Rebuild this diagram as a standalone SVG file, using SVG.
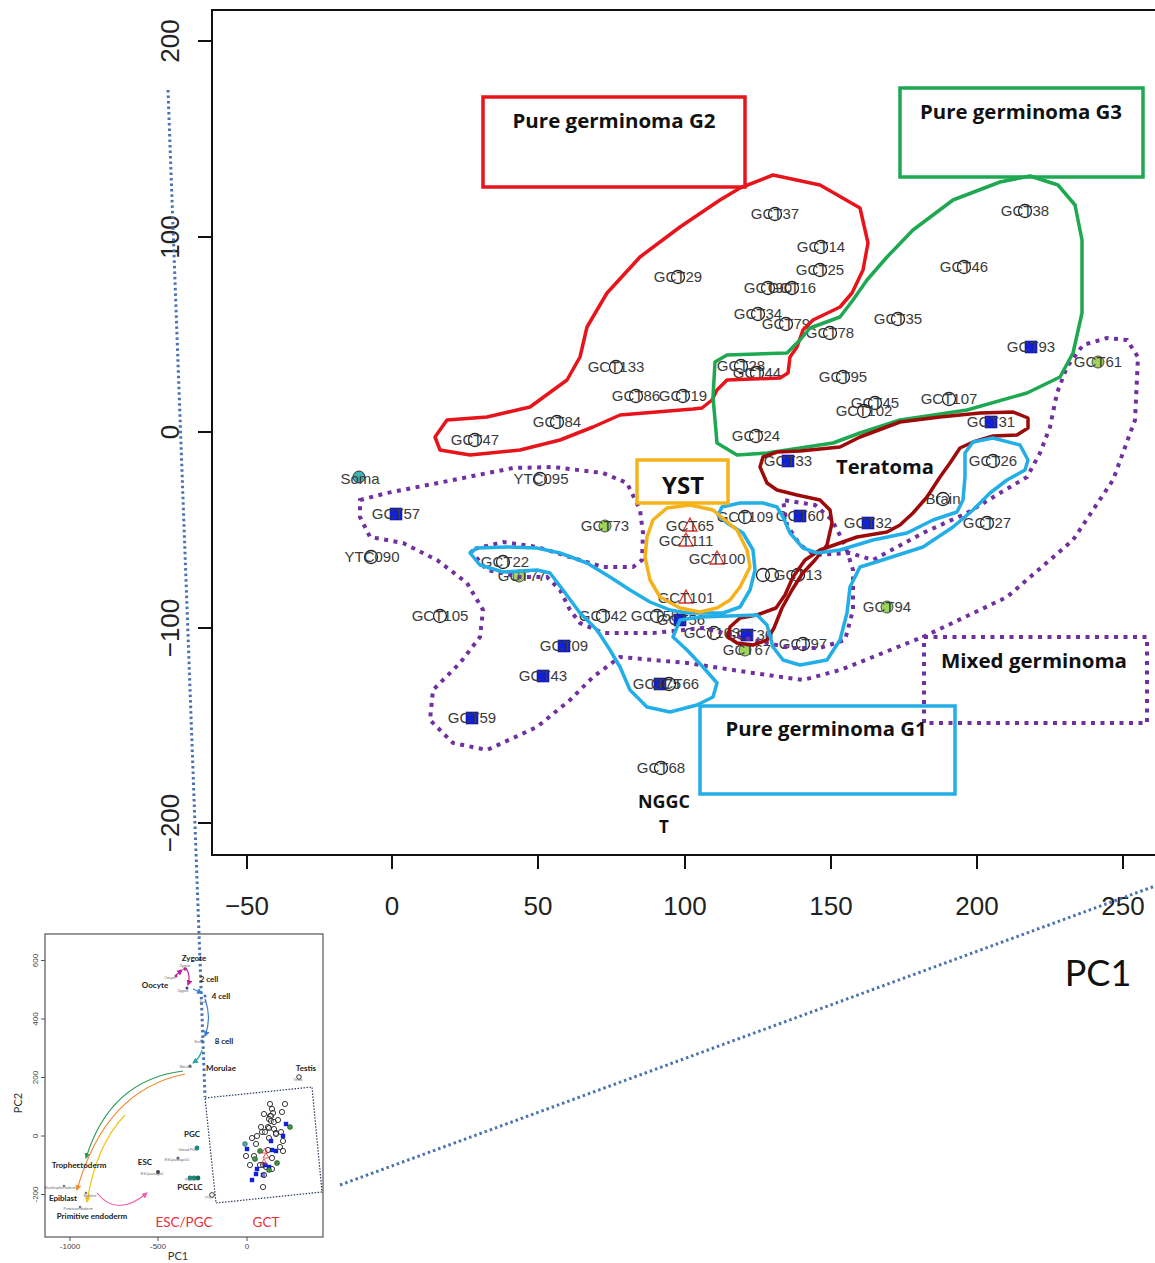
<svg xmlns="http://www.w3.org/2000/svg" xmlns:xlink="http://www.w3.org/1999/xlink" width="1155" height="1263" viewBox="0 0 1155 1263">
<style>
.lbl{font-family:"Liberation Sans",Arial,sans-serif;font-size:15px;fill:#3a3a3a;text-anchor:middle}
.tick{font-family:"Liberation Sans",Arial,sans-serif;font-size:26px;fill:#222;text-anchor:middle}
.ann{font-family:"Open Sans","Noto Sans",sans-serif;font-weight:700;fill:#111;text-anchor:middle}
.oc{fill:none;stroke:#222;stroke-width:1.3}
.bs{fill:#1020dc;stroke:#1a1a80;stroke-width:0.6}
.gc{fill:#9ed35c;stroke:#4a4a4a;stroke-width:1}
.rt{fill:none;stroke:#e0302a;stroke-width:1.3}
.tl{fill:#3fb3b3;stroke:#333;stroke-width:1}
.hull{fill:none;stroke-width:3.5;stroke-linejoin:round;stroke-linecap:round}
.dot{fill:none;stroke:#7030a0;stroke-width:4;stroke-dasharray:4 5.5}
.conn{fill:none;stroke:#4a72b0;stroke-width:3;stroke-dasharray:2.5 3}
.ilab{font-family:Lato,"Open Sans",sans-serif;font-weight:700;font-size:8px;fill:#222;text-anchor:middle}
.itiny{font-family:"Liberation Sans",sans-serif;font-size:3.5px;fill:#666;text-anchor:middle}
.itick{font-family:"Liberation Sans",sans-serif;font-size:8px;fill:#444;text-anchor:middle}
.ioc{fill:#fff;fill-opacity:0.4;stroke:#222;stroke-width:0.9}
.ibs{fill:#1020dc}
.igc{fill:#3a9a3a;stroke:#222;stroke-width:0.5}
.iarr{fill:none;stroke-width:1.2}
</style>
<defs>
<circle id="mc" r="6.5" class="oc"/>
<rect id="mb" x="-6" y="-6" width="12" height="12" class="bs"/>
<circle id="mg" r="6" class="gc"/>
<path id="mt" d="M0,-8 L7,5 L-7,5 Z" class="rt"/>
<circle id="ic" r="2.6" class="ioc"/>
<rect id="ib" x="-2.2" y="-2.2" width="4.4" height="4.4" class="ibs"/>
<circle id="ig" r="2.5" class="igc"/>
<marker id="aG" viewBox="0 0 6 6" refX="5" refY="3" markerWidth="5" markerHeight="5" orient="auto"><path d="M0,0 L6,3 L0,6 Z" fill="#2a9a5a"/></marker>
<marker id="aO" viewBox="0 0 6 6" refX="5" refY="3" markerWidth="5" markerHeight="5" orient="auto"><path d="M0,0 L6,3 L0,6 Z" fill="#f08a30"/></marker>
<marker id="aY" viewBox="0 0 6 6" refX="5" refY="3" markerWidth="5" markerHeight="5" orient="auto"><path d="M0,0 L6,3 L0,6 Z" fill="#f2c418"/></marker>
<marker id="aP" viewBox="0 0 6 6" refX="5" refY="3" markerWidth="5" markerHeight="5" orient="auto"><path d="M0,0 L6,3 L0,6 Z" fill="#f060b0"/></marker>
<marker id="aB" viewBox="0 0 6 6" refX="5" refY="3" markerWidth="5" markerHeight="5" orient="auto"><path d="M0,0 L6,3 L0,6 Z" fill="#3a7ad8"/></marker>
<marker id="aT" viewBox="0 0 6 6" refX="5" refY="3" markerWidth="5" markerHeight="5" orient="auto"><path d="M0,0 L6,3 L0,6 Z" fill="#20a8a0"/></marker>
<marker id="aM" viewBox="0 0 6 6" refX="5" refY="3" markerWidth="5" markerHeight="5" orient="auto"><path d="M0,0 L6,3 L0,6 Z" fill="#c0209a"/></marker>
</defs>
<rect width="1155" height="1263" fill="#fff"/>

<!-- axes -->
<g id="axes">
<rect x="212" y="10" width="960" height="845" fill="none" stroke="#111" stroke-width="2"/>
<g stroke="#111" stroke-width="2">
<line x1="198" y1="41" x2="212" y2="41"/><line x1="198" y1="237" x2="212" y2="237"/><line x1="198" y1="432" x2="212" y2="432"/><line x1="198" y1="628" x2="212" y2="628"/><line x1="198" y1="823" x2="212" y2="823"/>
<line x1="247" y1="855" x2="247" y2="869"/><line x1="392" y1="855" x2="392" y2="869"/><line x1="538" y1="855" x2="538" y2="869"/><line x1="685" y1="855" x2="685" y2="869"/><line x1="831" y1="855" x2="831" y2="869"/><line x1="977" y1="855" x2="977" y2="869"/><line x1="1123" y1="855" x2="1123" y2="869"/>
</g>
<text class="tick" transform="translate(179,41) rotate(-90)">200</text>
<text class="tick" transform="translate(179,237) rotate(-90)">100</text>
<text class="tick" transform="translate(179,432) rotate(-90)">0</text>
<text class="tick" transform="translate(179,628) rotate(-90)">−100</text>
<text class="tick" transform="translate(179,823) rotate(-90)">−200</text>
<text class="tick" x="247" y="915">−50</text>
<text class="tick" x="392" y="915">0</text>
<text class="tick" x="538" y="915">50</text>
<text class="tick" x="685" y="915">100</text>
<text class="tick" x="831" y="915">150</text>
<text class="tick" x="977" y="915">200</text>
<text class="tick" x="1123" y="915">250</text>
<text x="1098" y="986" font-family="Lato,'Open Sans',sans-serif" font-size="36" fill="#111" text-anchor="middle">PC1</text>
</g>

<!-- data points -->
<g id="points">
<g id="p-gct37"><use href="#mc" x="775" y="214"/><text class="lbl" x="775" y="219">GCT37</text></g>
<g id="p-gct14"><use href="#mc" x="821" y="247"/><text class="lbl" x="821" y="252">GCT14</text></g>
<g id="p-gct25"><use href="#mc" x="820" y="270"/><text class="lbl" x="820" y="275">GCT25</text></g>
<g id="p-gct29"><use href="#mc" x="678" y="277"/><text class="lbl" x="678" y="282">GCT29</text></g>
<g id="p-gct90"><use href="#mc" x="768" y="288"/><text class="lbl" x="768" y="293">GCT90</text></g>
<g id="p-gct16"><use href="#mc" x="792" y="288"/><text class="lbl" x="792" y="293">GCT16</text></g>
<g id="p-gct34"><use href="#mc" x="758" y="314"/><text class="lbl" x="758" y="319">GCT34</text></g>
<g id="p-gct79"><use href="#mc" x="786" y="324"/><text class="lbl" x="786" y="329">GCT79</text></g>
<g id="p-gct78"><use href="#mc" x="830" y="333"/><text class="lbl" x="830" y="338">GCT78</text></g>
<g id="p-gct133"><use href="#mc" x="616" y="367"/><text class="lbl" x="616" y="372">GCT133</text></g>
<g id="p-gct28"><use href="#mc" x="741" y="366"/><text class="lbl" x="741" y="371">GCT28</text></g>
<g id="p-gct44"><use href="#mc" x="757" y="373"/><text class="lbl" x="757" y="378">GCT44</text></g>
<g id="p-gct86"><use href="#mc" x="636" y="396"/><text class="lbl" x="636" y="401">GCT86</text></g>
<g id="p-gct19"><use href="#mc" x="683" y="396"/><text class="lbl" x="683" y="401">GCT19</text></g>
<g id="p-gct84"><use href="#mc" x="557" y="422"/><text class="lbl" x="557" y="427">GCT84</text></g>
<g id="p-gct47"><use href="#mc" x="475" y="440"/><text class="lbl" x="475" y="445">GCT47</text></g>
<g id="p-gct95"><use href="#mc" x="843" y="377"/><text class="lbl" x="843" y="382">GCT95</text></g>
<g id="p-gct45"><use href="#mc" x="875" y="403"/><text class="lbl" x="875" y="408">GCT45</text></g>
<g id="p-gct102"><use href="#mc" x="864" y="411"/><text class="lbl" x="864" y="416">GCT102</text></g>
<g id="p-gct24"><use href="#mc" x="756" y="436"/><text class="lbl" x="756" y="441">GCT24</text></g>
<g id="p-gct35"><use href="#mc" x="898" y="319"/><text class="lbl" x="898" y="324">GCT35</text></g>
<g id="p-gct38"><use href="#mc" x="1025" y="211"/><text class="lbl" x="1025" y="216">GCT38</text></g>
<g id="p-gct46"><use href="#mc" x="964" y="267"/><text class="lbl" x="964" y="272">GCT46</text></g>
<g id="p-gct93"><use href="#mb" x="1031" y="347"/><text class="lbl" x="1031" y="352">GCT93</text></g>
<g id="p-gct61"><use href="#mg" x="1098" y="362"/><text class="lbl" x="1098" y="367">GCT61</text></g>
<g id="p-gct107"><use href="#mc" x="949" y="399"/><text class="lbl" x="949" y="404">GCT107</text></g>
<g id="p-gct31"><use href="#mb" x="991" y="422"/><text class="lbl" x="991" y="427">GCT31</text></g>
<g id="p-gct33"><use href="#mb" x="788" y="461"/><text class="lbl" x="788" y="466">GCT33</text></g>
<g id="p-gct26"><use href="#mc" x="993" y="461"/><text class="lbl" x="993" y="466">GCT26</text></g>
<g id="p-brain"><use href="#mc" x="943" y="499"/><text class="lbl" x="943" y="504">Brain</text></g>
<g id="p-gct27"><use href="#mc" x="987" y="523"/><text class="lbl" x="987" y="528">GCT27</text></g>
<g id="p-gct32"><use href="#mb" x="868" y="523"/><text class="lbl" x="868" y="528">GCT32</text></g>
<g id="p-gct60"><use href="#mb" x="800" y="516"/><text class="lbl" x="800" y="521">GCT60</text></g>
<g id="p-gct109"><use href="#mc" x="745" y="517"/><text class="lbl" x="745" y="522">GCT109</text></g>
<g id="p-gct65"><use href="#mt" x="690" y="526"/><text class="lbl" x="690" y="531">GCT65</text></g>
<g id="p-gct111"><use href="#mt" x="686" y="541"/><text class="lbl" x="686" y="546">GCT111</text></g>
<g id="p-gct100"><use href="#mt" x="717" y="559"/><text class="lbl" x="717" y="564">GCT100</text></g>
<g id="p-gct101"><use href="#mt" x="686" y="598"/><text class="lbl" x="686" y="603">GCT101</text></g>
<g id="p-gct13"><use href="#mc" x="763" y="575"/><use href="#mc" x="772" y="575"/><use href="#mc" x="798" y="575"/><text class="lbl" x="798" y="580">GCT13</text></g>
<g id="p-gct94"><use href="#mg" x="887" y="607"/><text class="lbl" x="887" y="612">GCT94</text></g>
<g id="p-gct97"><use href="#mc" x="803" y="644"/><text class="lbl" x="803" y="649">GCT97</text></g>
<g id="p-gct103"><use href="#mc" x="714" y="633"/><text class="lbl" x="712" y="638">GCT103</text></g>
<g id="p-gct36"><use href="#mb" x="747" y="635"/><text class="lbl" x="749" y="640">GCT36</text></g>
<g id="p-gct67"><use href="#mg" x="745" y="650"/><text class="lbl" x="747" y="655">GCT67</text></g>
<g id="p-gct42"><use href="#mc" x="603" y="616"/><text class="lbl" x="603" y="621">GCT42</text></g>
<g id="p-gct58"><use href="#mc" x="657" y="616"/><text class="lbl" x="655" y="621">GCT58</text></g>
<g id="p-gct56"><use href="#mb" x="680" y="620"/><text class="lbl" x="681" y="625">GCT56</text></g>
<g id="p-gct75"><use href="#mb" x="660" y="684"/><text class="lbl" x="657" y="689">GCT75</text></g>
<g id="p-gct66"><use href="#mc" x="669" y="684"/><text class="lbl" x="675" y="689">GCT66</text></g>
<g id="p-gct22"><use href="#mc" x="503" y="562"/><text class="lbl" x="505" y="567">GCT22</text></g>
<g id="p-gct77"><use href="#mg" x="519" y="576"/><text class="lbl" x="522" y="581">GCT77</text></g>
<g id="p-gct73"><use href="#mg" x="605" y="526"/><text class="lbl" x="605" y="531">GCT73</text></g>
<g id="p-ytc095"><use href="#mc" x="540" y="479"/><text class="lbl" x="541" y="484">YTC095</text></g>
<g id="p-ytc090"><use href="#mc" x="371" y="557"/><text class="lbl" x="372" y="562">YTC090</text></g>
<g id="p-gct57"><use href="#mb" x="396" y="514"/><text class="lbl" x="396" y="519">GCT57</text></g>
<g id="p-soma"><circle cx="359" cy="477" r="6" class="tl"/><text class="lbl" x="360" y="484">Soma</text></g>
<g id="p-gct105"><use href="#mc" x="440" y="616"/><text class="lbl" x="440" y="621">GCT105</text></g>
<g id="p-gct09"><use href="#mb" x="564" y="646"/><text class="lbl" x="564" y="651">GCT09</text></g>
<g id="p-gct43"><use href="#mb" x="543" y="676"/><text class="lbl" x="543" y="681">GCT43</text></g>
<g id="p-gct59"><use href="#mb" x="472" y="718"/><text class="lbl" x="472" y="723">GCT59</text></g>
<g id="p-gct68"><use href="#mc" x="661" y="768"/><text class="lbl" x="661" y="773">GCT68</text></g>
</g>

<!-- group outlines (connectors/hulls) -->
<g id="connectors">
<path id="hull-mixed" class="dot" d="M360,500 L387,493 L453,480 L513,468 L553,467 L603,473 L627,483 L640,510 L643,533 L642,560 L633,567 L603,567 L570,557 L537,547 L503,542 L470,550 L487,570 L520,577 L547,577 L560,590 L570,610 L580,623 L603,633 L653,633 L703,628 L753,640 L790,648 L820,648 L845,640 L853,610 L853,570 L845,545 L832,520 L815,505 L783,500 L787,525 L800,545 L815,555 L850,553 L873,560 L923,533 L967,513 L1000,493 L1027,477 L1040,453 L1050,427 L1057,393 L1067,367 L1083,345 L1107,338 L1127,340 L1138,357 L1135,420 L1113,480 L1073,540 L1007,597 L923,637 L840,670 L803,680 L753,673 L687,663 L620,657 L593,677 L570,700 L537,727 L487,750 L453,743 L430,720 L433,690 L460,663 L480,637 L483,610 L467,583 L437,560 L403,543 L370,537 L360,517 Z"/>
<path id="hull-g2" class="hull" stroke="#e8141b" d="M740,188 L773,175 L820,185 L860,208 L868,243 L863,270 L852,293 L840,307 L813,320 L803,330 L797,347 L790,357 L788,373 L780,378 L727,380 L717,390 L712,400 L702,408 L693,409 L620,415 L593,427 L560,440 L520,450 L470,455 L440,450 L435,437 L447,420 L487,417 L530,407 L567,380 L580,357 L587,327 L607,293 L640,257 L680,227 L720,200 Z"/>
<path id="hull-g3" class="hull" stroke="#1da851" d="M715,362 L727,355 L787,353 L800,340 L810,328 L840,317 L853,300 L867,280 L887,257 L913,230 L953,200 L1000,182 L1030,176 L1058,185 L1075,205 L1082,240 L1082,313 L1073,353 L1060,377 L1027,393 L967,410 L900,420 L860,433 L833,443 L767,453 L737,455 L717,443 L713,397 Z"/>
<path id="hull-ter" class="hull" stroke="#9c0a0a" d="M777,452 L800,451 L840,447 L860,437 L900,422 L940,417 L980,413 L1013,412 L1028,418 L1028,428 L1017,435 L993,436 L973,442 L960,448 L950,463 L940,477 L927,497 L913,513 L900,525 L887,532 L857,537 L840,543 L820,550 L805,560 L793,577 L785,595 L776,608 L757,615 L740,618 L730,627 L728,637 L737,643 L753,645 L767,640 L774,628 L782,608 L792,590 L802,574 L815,560 L827,545 L832,523 L830,510 L820,500 L797,495 L777,490 L767,483 L760,467 L763,457 Z"/>
<path id="hull-g1" class="hull" stroke="#22aee6" d="M470,553 L477,548 L507,547 L537,548 L560,553 L587,563 L610,577 L630,590 L650,602 L670,610 L687,613 L723,613 L740,607 L750,590 L755,570 L753,550 L743,533 L727,523 L718,515 L722,507 L740,503 L763,503 L777,507 L783,517 L790,533 L803,548 L817,553 L840,550 L873,540 L907,533 L933,520 L957,512 L963,500 L965,477 L965,453 L973,442 L993,438 L1020,445 L1028,460 L1025,470 L1007,480 L990,493 L973,510 L953,527 L923,547 L873,563 L860,567 L850,587 L847,613 L840,640 L827,660 L800,665 L783,660 L773,647 L767,625 L757,615 L700,617 L680,620 L673,637 L687,650 L703,667 L717,683 L713,697 L697,705 L670,712 L647,707 L630,690 L620,667 L610,650 L597,630 L580,613 L563,590 L550,573 L537,570 L503,572 L480,565 Z"/>
<path id="hull-yst" class="hull" stroke="#f5b21b" d="M647,537 L653,520 L667,508 L690,505 L713,510 L737,530 L747,550 L750,567 L740,587 L730,600 L717,608 L700,612 L680,608 L660,597 L650,580 L645,557 Z"/>
<line id="zoom-line-1" class="conn" x1="168" y1="90" x2="205" y2="1097"/>
<line id="zoom-line-2" class="conn" x1="340" y1="1185" x2="1155" y2="886"/>
</g>

<!-- annotation boxes -->
<g id="n-g2"><rect x="483" y="97" width="262" height="90" fill="none" stroke="#e8141b" stroke-width="3.5"/><text class="ann" x="614" y="128" font-size="19" textLength="203" lengthAdjust="spacingAndGlyphs">Pure germinoma G2</text></g>
<g id="n-g3"><rect x="900" y="88" width="243" height="89" fill="none" stroke="#1da851" stroke-width="3.5"/><text class="ann" x="1021" y="119" font-size="19" textLength="202" lengthAdjust="spacingAndGlyphs">Pure germinoma G3</text></g>
<g id="n-yst"><rect x="637" y="460" width="91" height="43" fill="#fff" stroke="#f5b21b" stroke-width="3.5"/><text class="ann" x="683" y="494" font-size="24" textLength="42" lengthAdjust="spacingAndGlyphs">YST</text></g>
<g id="n-teratoma"><text class="ann" x="885" y="474" font-size="19" textLength="98" lengthAdjust="spacingAndGlyphs">Teratoma</text></g>
<g id="n-mixed"><rect x="924" y="637" width="223" height="86" fill="none" class="dot"/><text class="ann" x="1034" y="668" font-size="19" textLength="186" lengthAdjust="spacingAndGlyphs">Mixed germinoma</text></g>
<g id="n-g1"><rect x="700" y="706" width="255" height="88" fill="none" stroke="#22aee6" stroke-width="3.5"/><text class="ann" x="826" y="736" font-size="19" textLength="201" lengthAdjust="spacingAndGlyphs">Pure germinoma G1</text></g>
<g id="n-nggct"><text class="ann" x="664" y="808" font-size="17" textLength="52" lengthAdjust="spacingAndGlyphs">NGGC</text><text class="ann" x="664" y="833" font-size="17">T</text></g>

<!-- inset overview plot -->
<g id="inset">
<rect x="45" y="934" width="278" height="303" fill="none" stroke="#555" stroke-width="1.2"/>
<g stroke="#555" stroke-width="1">
<line x1="41" y1="960.5" x2="45" y2="960.5"/><line x1="41" y1="1019" x2="45" y2="1019"/><line x1="41" y1="1077.5" x2="45" y2="1077.5"/><line x1="41" y1="1136" x2="45" y2="1136"/><line x1="41" y1="1194.5" x2="45" y2="1194.5"/>
<line x1="70" y1="1237" x2="70" y2="1241"/><line x1="158" y1="1237" x2="158" y2="1241"/><line x1="247" y1="1237" x2="247" y2="1241"/>
</g>
<text class="itick" transform="translate(38,960.5) rotate(-90)">600</text>
<text class="itick" transform="translate(38,1019) rotate(-90)">400</text>
<text class="itick" transform="translate(38,1077.5) rotate(-90)">200</text>
<text class="itick" transform="translate(38,1136) rotate(-90)">0</text>
<text class="itick" transform="translate(38,1194.5) rotate(-90)">-200</text>
<text class="itick" x="70" y="1249">-1000</text>
<text class="itick" x="158" y="1249">-500</text>
<text class="itick" x="247" y="1249">0</text>
<text x="178" y="1260" font-family="Lato,sans-serif" font-size="11" fill="#333" text-anchor="middle">PC1</text>
<text transform="translate(22,1103) rotate(-90)" font-family="Lato,sans-serif" font-size="11" fill="#333" text-anchor="middle">PC2</text>

<polygon id="inset-gct-box" points="205,1098 312,1087 322,1192 216,1203" fill="none" stroke="#2a3a5a" stroke-width="1.2" stroke-dasharray="1.5 1.5"/>

<!-- developmental arrows -->
<path class="iarr" stroke="#c0209a" d="M176,975 L182,970" marker-end="url(#aM)"/>
<path class="iarr" stroke="#c0209a" d="M186,968 Q191,976 188,985" marker-end="url(#aM)"/>
<path class="iarr" stroke="#3a7ad8" d="M193,989 L202,993" marker-end="url(#aB)"/>
<path class="iarr" stroke="#3a7ad8" d="M205,999 Q212,1018 205,1036" marker-end="url(#aB)"/>
<path class="iarr" stroke="#20a8a0" d="M202,1050 Q200,1058 193,1063" marker-end="url(#aT)"/>
<path class="iarr" stroke="#2a9a5a" d="M183,1071 Q110,1080 86,1158" marker-end="url(#aG)"/>
<path class="iarr" stroke="#f08a30" d="M185,1074 Q105,1090 77,1190" marker-end="url(#aO)"/>
<path class="iarr" stroke="#f2c418" d="M125,1115 Q96,1145 87,1202" marker-end="url(#aY)"/>
<path class="iarr" stroke="#f060b0" d="M97,1193 Q117,1218 147,1193" marker-end="url(#aP)"/>

<!-- inset points -->
<g id="inset-points">
<circle cx="185" cy="969" r="1.8" fill="#c0209a"/><circle cx="176" cy="976" r="1.5" fill="#c0209a"/><circle cx="187" cy="988" r="1.5" fill="#3a3aa0"/>
<circle cx="205" cy="996" r="1.5" fill="#3a6ad0"/><circle cx="202" cy="1041" r="1.5" fill="#3a6ad0"/><circle cx="190" cy="1066" r="1.5" fill="#666"/>
<circle cx="299" cy="1077" r="2.3" class="ioc"/>
<circle cx="197" cy="1148" r="2.4" fill="#1a8a7a"/><circle cx="190" cy="1178" r="2.4" fill="#1a8a7a"/><circle cx="194" cy="1178" r="2.4" fill="#1a8a7a"/><circle cx="198" cy="1178" r="2.4" fill="#1a6a5a"/>
<circle cx="158" cy="1172" r="2" fill="#445"/><circle cx="178" cy="1158" r="1.6" fill="#667"/>
<circle cx="212" cy="1195" r="2.4" class="ioc"/>
<circle cx="78" cy="1165" r="1.3" fill="#777"/><circle cx="64" cy="1186" r="1.3" fill="#777"/><circle cx="86" cy="1193" r="1.3" fill="#777"/><circle cx="80" cy="1207" r="1.3" fill="#777"/>
<use href="#ic" x="270" y="1104"/><use href="#ic" x="272" y="1109"/><use href="#ic" x="273" y="1113"/><use href="#ic" x="264" y="1114"/>
<use href="#ic" x="270" y="1116"/><use href="#ic" x="271" y="1116"/><use href="#ic" x="269" y="1119"/><use href="#ic" x="271" y="1121"/>
<use href="#ic" x="274" y="1122"/><use href="#ic" x="261" y="1127"/><use href="#ic" x="268" y="1127"/><use href="#ic" x="269" y="1128"/>
<use href="#ic" x="262" y="1132"/><use href="#ic" x="265" y="1132"/><use href="#ic" x="257" y="1136"/><use href="#ic" x="252" y="1138"/>
<use href="#ic" x="274" y="1129"/><use href="#ic" x="276" y="1133"/><use href="#ic" x="276" y="1134"/><use href="#ic" x="269" y="1138"/>
<use href="#ic" x="278" y="1120"/><use href="#ic" x="285" y="1104"/><use href="#ic" x="282" y="1112"/><use href="#ib" x="286" y="1124"/>
<use href="#ig" x="290" y="1127"/><use href="#ic" x="281" y="1132"/><use href="#ib" x="283" y="1136"/><use href="#ib" x="271" y="1141"/>
<use href="#ic" x="283" y="1141"/><use href="#ic" x="280" y="1147"/><use href="#ic" x="283" y="1151"/><use href="#ib" x="276" y="1151"/>
<use href="#ib" x="272" y="1150"/><use href="#ic" x="268" y="1150"/>
<use href="#ic" x="272" y="1158"/><use href="#ig" x="277" y="1163"/><use href="#ic" x="272" y="1169"/><use href="#ic" x="266" y="1167"/>
<use href="#ib" x="269" y="1167"/><use href="#ig" x="269" y="1170"/><use href="#ic" x="260" y="1165"/><use href="#ic" x="263" y="1165"/>
<use href="#ib" x="265" y="1165"/><use href="#ib" x="263" y="1175"/><use href="#ic" x="264" y="1175"/><use href="#ic" x="254" y="1156"/>
<use href="#ig" x="255" y="1159"/><use href="#ig" x="260" y="1151"/><use href="#ic" x="256" y="1144"/><use href="#ic" x="246" y="1156"/>
<use href="#ib" x="247" y="1149"/><circle cx="245" cy="1144" r="2.4" fill="#3fb3b3" stroke="#333" stroke-width="0.5"/><use href="#ic" x="250" y="1165"/><use href="#ib" x="257" y="1169"/>
<use href="#ib" x="256" y="1174"/><use href="#ib" x="252" y="1180"/><use href="#ic" x="263" y="1187"/>
<path d="M265,1148 L268,1153 L262,1153 Z M266,1153 L269,1158 L263,1158 Z M264,1159 L267,1164 L261,1164 Z" fill="none" stroke="#d03030" stroke-width="0.8"/>
</g>

<!-- inset tiny labels -->
<text class="itiny" x="185" y="966.5">Zygote</text>
<text class="itiny" x="170" y="979">Oocyte</text>
<text class="itiny" x="183" y="992">Zygote</text>
<text class="itiny" x="203" y="1003">4cell</text>
<text class="itiny" x="198" y="1043">8cell</text>
<text class="itiny" x="186" y="1068">Morulae</text>
<text class="itiny" x="298" y="1081">Testis</text>
<text class="itiny" x="188" y="1151">Gonad PGC</text>
<text class="itiny" x="177" y="1161">ESCpassage10</text>
<text class="itiny" x="152" y="1175">ESCpassage0</text>
<text class="itiny" x="191" y="1181">PGCLC</text>
<text class="itiny" x="208" y="1199">YTC</text>
<text class="itiny" x="60" y="1189">Muraltrophectoderm</text>
<text class="itiny" x="90" y="1197">Epiblast</text>
<text class="itiny" x="78" y="1210">Primitiveendoderm</text>

<!-- inset bold labels -->
<text class="ilab" x="194" y="961">Zygote</text>
<text class="ilab" x="155" y="988">Oocyte</text>
<text class="ilab" x="209" y="982">2 cell</text>
<text class="ilab" x="221" y="999">4 cell</text>
<text class="ilab" x="224" y="1044">8 cell</text>
<text class="ilab" x="221" y="1071">Morulae</text>
<text class="ilab" x="306" y="1071">Testis</text>
<text class="ilab" x="192" y="1137">PGC</text>
<text class="ilab" x="145" y="1165">ESC</text>
<text class="ilab" x="190" y="1190">PGCLC</text>
<text class="ilab" x="79" y="1168">Trophectoderm</text>
<text class="ilab" x="63" y="1201">Epiblast</text>
<text class="ilab" x="92" y="1219">Primitive endoderm</text>
<text x="184" y="1227" font-family="Lato,sans-serif" font-size="13.5" fill="#e8303a" text-anchor="middle">ESC/PGC</text>
<text x="266" y="1227" font-family="Lato,sans-serif" font-size="13.5" fill="#e8303a" text-anchor="middle">GCT</text>
</g>
</svg>
